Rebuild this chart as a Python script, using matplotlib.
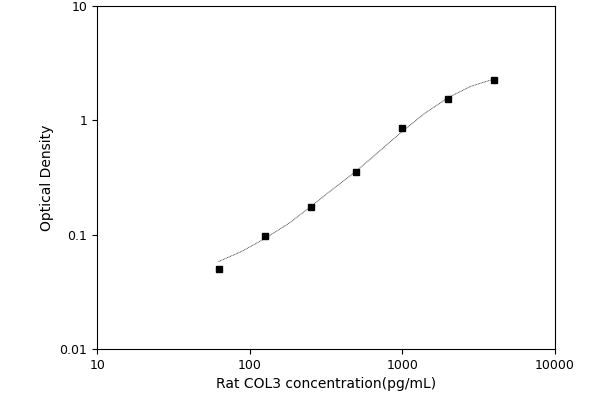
import numpy as np
import matplotlib.pyplot as plt

conc = [62.5, 125, 250, 500, 1000, 2000, 4000]
od = [0.050, 0.097, 0.175, 0.35, 0.85, 1.55, 2.25]

# fitted curve
curve_x = [62.5, 90, 125, 180, 250, 350, 500, 700, 1000, 1400, 2000, 2800, 4000]
curve_y = [0.058, 0.072, 0.092, 0.125, 0.175, 0.25, 0.36, 0.53, 0.80, 1.15, 1.58, 1.98, 2.30]

fig = plt.figure(figsize=(6, 4), dpi=100)
ax = fig.add_axes([0.162, 0.128, 0.763, 0.857])
ax.plot(curve_x, curve_y, color='#555555', lw=0.7, ls=(0, (1, 0.6)))
ax.plot(conc, od, 's', color='black', ms=4.5)
ax.set_xscale('log')
ax.set_yscale('log')
ax.set_xlim(10, 10000)
ax.set_ylim(0.01, 10)
ax.set_xticks([10, 100, 1000, 10000])
ax.set_xticklabels(['10', '100', '1000', '10000'])
ax.set_yticks([0.01, 0.1, 1, 10])
ax.set_yticklabels(['0.01', '0.1', '1', '10'])
ax.minorticks_off()
ax.tick_params(labelsize=9)
ax.set_xlabel('Rat COL3 concentration(pg/mL)', fontsize=10)
ax.set_ylabel('Optical Density', fontsize=10)
fig.savefig('out.png')
